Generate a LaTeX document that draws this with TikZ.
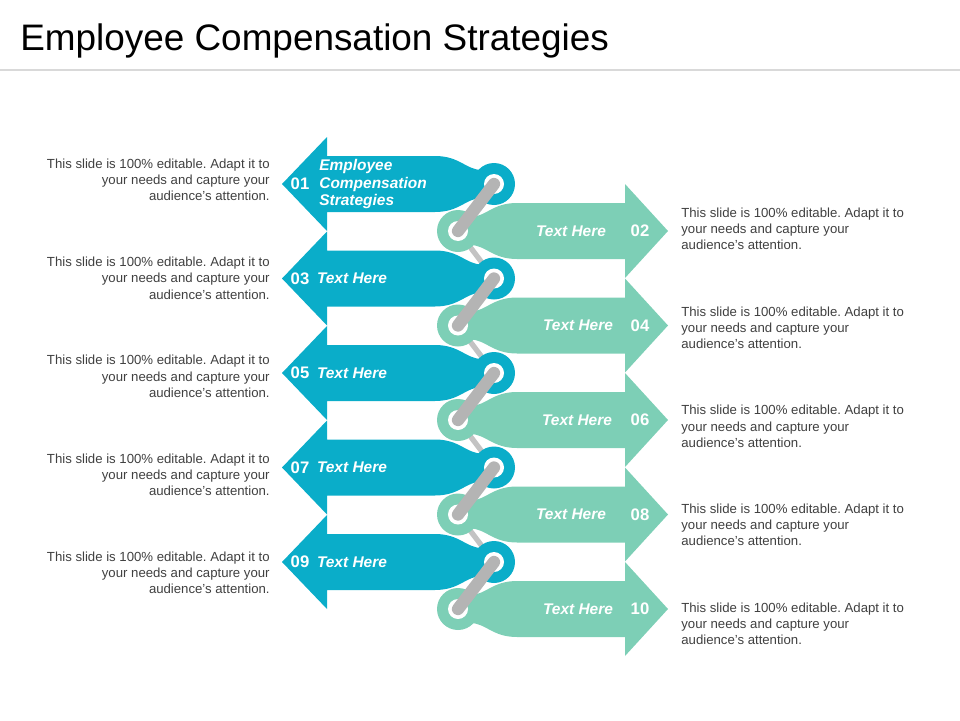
\documentclass[tikz,border=0pt]{standalone}
\usepackage{fontspec}
\setmainfont{Liberation Sans}
\usetikzlibrary{positioning}
\frenchspacing
\definecolor{tealblue}{HTML}{0AADC9}
\definecolor{mint}{HTML}{7DCFB6}
\definecolor{linkgray}{HTML}{B4B4B4}
\tikzset{
    desc/.style={font=\fontsize{7.5}{9.2}\selectfont, text=black!75, inner sep=0pt},
    num/.style={font=\fontsize{9.5}{11}\selectfont\bfseries, text=white, inner sep=0pt},
    label/.style={font=\fontsize{8.8}{10.2}\selectfont\bfseries\itshape, text=white, inner sep=0pt, align=left}
}
\newcommand{\descText}{This slide is 100\% editable. Adapt it to\\your needs and capture your\\audience's attention.}

\begin{document}
\begin{tikzpicture}[x=0.02cm, y=-0.02cm]
    \useasboundingbox (0,0) rectangle (960,720);
    \node[anchor=west, font=\fontsize{21}{24}\selectfont, inner sep=0pt] (title) at (20,41) {Employee Compensation Strategies};
    \draw[black!15, line width=1.6pt] (0,70) -- (960,70);

    % thin links between the rows
    \foreach \i in {0,...,3} {
        \pgfmathsetmacro{\yr}{231+94.5*\i}
        \coordinate (r\i) at (458,\yr);
        \coordinate (l\i) at (494,\yr+47.5);
        \draw[linkgray!80, line width=3pt] (r\i) -- (l\i);
    }

    % left arrows
    \foreach \i in {0,...,4} {
        \pgfmathsetmacro{\y}{184+94.5*\i}
        \fill[tealblue] (282,\y) -- (327,\y-47) -- (327,\y-28) -- (435,\y-28)
            .. controls (460,\y-28) and (466,\y-14) .. (482,\y-14) -- (482,\y+14)
            .. controls (466,\y+14) and (460,\y+28) .. (435,\y+28) -- (327,\y+28) -- (327,\y+47) -- cycle;
        \fill[tealblue] (494,\y) circle (21);
        \fill[white] (494,\y) circle (10);
    }

    % right arrows
    \foreach \i in {0,...,4} {
        \pgfmathsetmacro{\y}{231+94.5*\i}
        \fill[mint] (668,\y) -- (625,\y-47) -- (625,\y-28) -- (517,\y-28)
            .. controls (492,\y-28) and (486,\y-14) .. (470,\y-14) -- (470,\y+14)
            .. controls (486,\y+14) and (492,\y+28) .. (517,\y+28) -- (625,\y+28) -- (625,\y+47) -- cycle;
        \fill[mint] (458,\y) circle (21);
        \fill[white] (458,\y) circle (10);
        % thick bar from left ring to right ring
        \draw[linkgray, line width=7pt, line cap=round] (494,\y-47) -- (458,\y);
    }

    % left labels
    \node[num, anchor=center] (n01) at (300,184) {01};
    \node[label, anchor=west] (t01) at (319,184) {Employee\\Compensation\\Strategies};
    \foreach \k/\i in {03/1,05/2,07/3,09/4} {
        \pgfmathsetmacro{\y}{184+94.5*\i}
        \node[num] (n\k) at (300,\y) {\k};
        \node[label, anchor=west, right=0.4em of n\k] (t\k) {Text Here};
    }

    % right labels
    \foreach \k/\i/\x in {02/0/571,04/1/578,06/2/577,08/3/571,10/4/578} {
        \pgfmathsetmacro{\y}{231+94.5*\i}
        \node[num] (n\k) at (640,\y) {\k};
        \node[label] (t\k) at (\x,\y) {Text Here};
    }

    % descriptions
    \foreach \i in {0,...,4} {
        \pgfmathsetmacro{\yl}{180+98.2*\i}
        \pgfmathsetmacro{\yr}{229+98.7*\i}
        \node[desc, anchor=east, align=right] (dl\i) at (270,\yl) {\descText};
        \node[desc, anchor=west, align=left] (dr\i) at (681,\yr) {\descText};
    }
\end{tikzpicture}
\end{document}
